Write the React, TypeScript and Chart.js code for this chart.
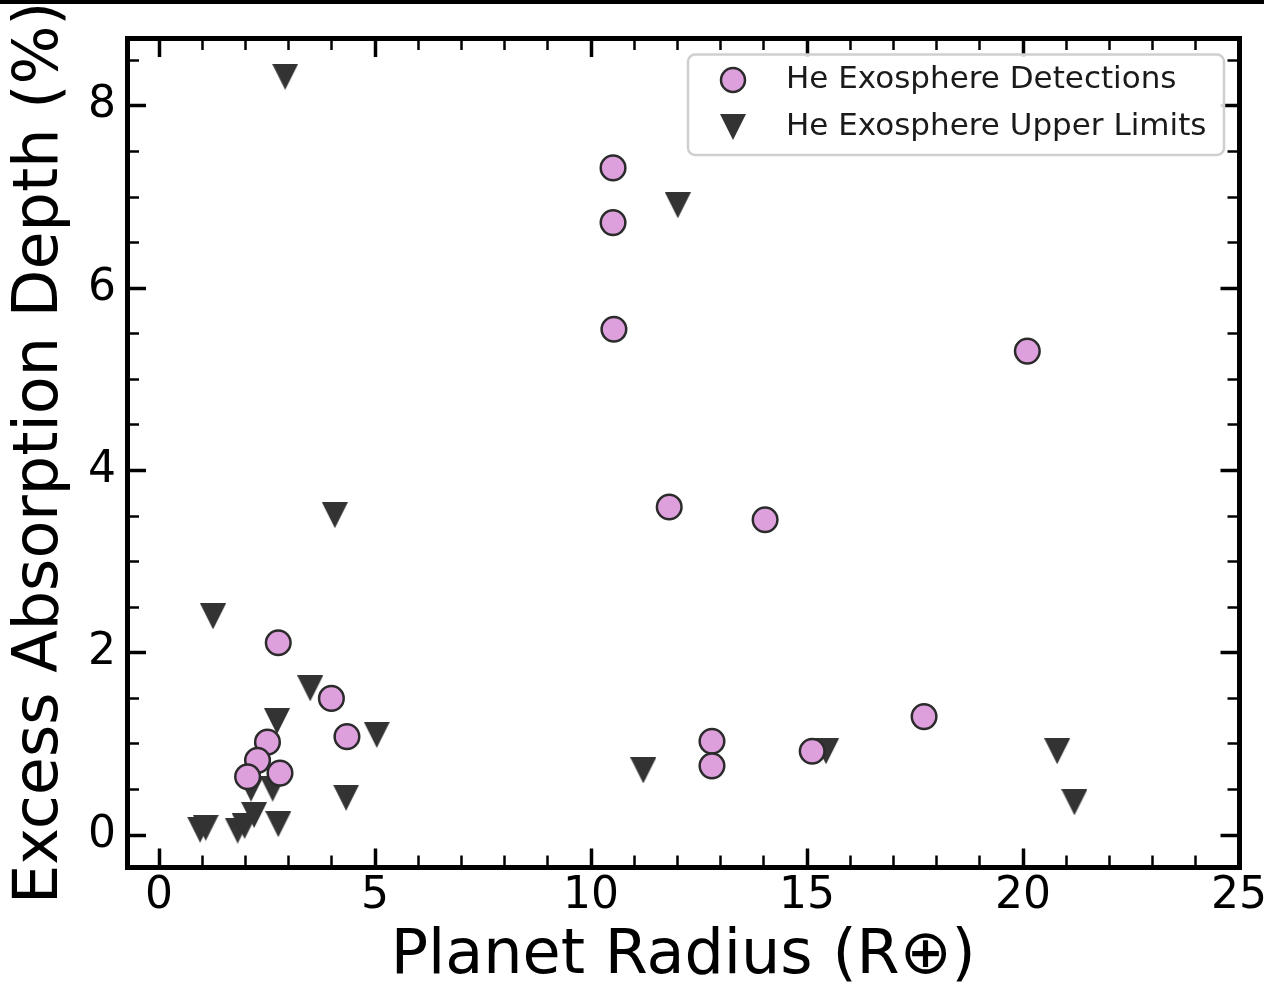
import React, { useEffect, useRef } from "react";
import { Chart, registerables } from "chart.js";

Chart.register(...registerables);

// ---------- data ----------
const detectionRadius = [10.51, 10.51, 10.53, 20.1, 11.81, 14.03, 2.76, 3.99, 4.35, 2.51, 2.28, 2.05, 2.8, 12.8, 12.8, 15.12, 17.71];
const detectionDepth = [7.32, 6.72, 5.55, 5.31, 3.6, 3.46, 2.11, 1.5, 1.08, 1.02, 0.82, 0.64, 0.68, 1.03, 0.76, 0.92, 1.3];

const limitRadius = [2.92, 12.01, 4.07, 1.25, 3.5, 2.73, 5.04, 4.33, 11.21, 15.44, 20.79, 21.19, 0.95, 1.08, 1.82, 1.98, 2.2, 2.76, 2.13, 2.63];
const limitDepth = [8.32, 6.91, 3.51, 2.4, 1.61, 1.25, 1.1, 0.41, 0.71, 0.92, 0.92, 0.36, 0.06, 0.08, 0.05, 0.1, 0.22, 0.12, 0.51, 0.51];

const xMajorTicks = [0, 5, 10, 15, 20, 25];
const xMinorTicks = [1, 2, 3, 4, 6, 7, 8, 9, 11, 12, 13, 14, 16, 17, 18, 19, 21, 22, 23, 24];
const yMajorTicks = [0, 2, 4, 6, 8];
const yMinorTicks = [0.5, 1, 1.5, 2.5, 3, 3.5, 4.5, 5, 5.5, 6.5, 7, 7.5, 8.5];

const X_MIN = -0.73;
const X_MAX = 25;
const Y_MIN = -0.35;
const Y_MAX = 8.74;

const xTitle = "Planet Radius (R\u2295)";
const yTitle = "Excess Absorption Depth (%)";
const detectionLabel = "He Exosphere Detections";
const limitLabel = "He Exosphere Upper Limits";

const FONT = "'DejaVu Sans'";
const PLUM = "#DDA0DD";
const EDGE = "#2b2b2b";
const TRI = "#333333";

function makeTriangle(w: number, h: number, color: string) {
  const c = document.createElement("canvas");
  c.width = w;
  c.height = h;
  const g = c.getContext("2d")!;
  g.fillStyle = color;
  g.beginPath();
  g.moveTo(0, 0);
  g.lineTo(w, 0);
  g.lineTo(w / 2, h);
  g.closePath();
  g.fill();
  return c;
}

const setTicks = (arr: number[]) => (s: any) => {
  s.ticks = arr.map((v) => ({ value: v }));
};

function helperAxis(pos: string, min: number, max: number, ticks: number[], major: boolean, spine: boolean) {
  const horizontal = pos === "top" || pos === "bottom";
  return {
    type: "linear",
    position: pos,
    min,
    max,
    weight: 0,
    afterBuildTicks: setTicks(ticks),
    afterFit: (s: any) => {
      if (horizontal) s.height = 0;
      else s.width = 0;
      s.paddingLeft = 0;
      s.paddingRight = 0;
      s.paddingTop = 0;
      s.paddingBottom = 0;
    },
    grid: {
      display: true,
      drawOnChartArea: false,
      drawTicks: true,
      tickLength: major ? -18.5 : -11.5,
      tickWidth: major ? 3.5 : 2.5,
      tickColor: "#000",
      lineWidth: 5,
      color: "#000",
    },
    border: { display: spine, width: 5, color: "#000" },
    ticks: { display: false, autoSkip: false },
    title: { display: false },
  };
}

const legendPlugin = {
  id: "boxLegend",
  afterDraw(chart: any) {
    const { ctx, chartArea } = chart;
    const tri = chart.options.plugins.boxLegend.marker;
    const right = chartArea.right - 15;
    const top = chartArea.top + 16;
    const w = 536;
    const h = 100.5;
    const left = right - w;
    ctx.save();
    ctx.beginPath();
    ctx.roundRect(left, top, w, h, 7);
    ctx.fillStyle = "rgba(255,255,255,0.85)";
    ctx.fill();
    ctx.lineWidth = 2.5;
    ctx.strokeStyle = "#cfcfcf";
    ctx.stroke();

    const mx = left + 45;
    const row1 = top + 25.5;
    const row2 = top + 72.5;
    ctx.beginPath();
    ctx.arc(mx, row1, 12, 0, Math.PI * 2);
    ctx.fillStyle = PLUM;
    ctx.fill();
    ctx.lineWidth = 2.5;
    ctx.strokeStyle = EDGE;
    ctx.stroke();
    ctx.drawImage(tri, mx - tri.width / 2, row2 - tri.height / 2);

    ctx.fillStyle = "#1a1a1a";
    ctx.font = `31px ${FONT}`;
    ctx.textAlign = "left";
    ctx.textBaseline = "middle";
    const tx = left + 98;
    ctx.fillText(detectionLabel, tx, row1);
    ctx.fillText(limitLabel, tx, row2);
    ctx.restore();
  },
};

export default function App() {
  const ref = useRef<HTMLCanvasElement>(null);

  useEffect(() => {
    Chart.defaults.font.family = FONT;
    const triangle = makeTriangle(26, 26, TRI);
    const chart = new Chart(ref.current!, {
      type: "scatter",
      data: {
        datasets: [
          {
            label: detectionLabel,
            data: detectionRadius.map((x, i) => ({ x, y: detectionDepth[i] })),
            pointStyle: "circle",
            pointRadius: 12.3,
            backgroundColor: PLUM,
            borderColor: EDGE,
            borderWidth: 2.5,
            xAxisID: "x",
            yAxisID: "y",
          },
          {
            label: limitLabel,
            data: limitRadius.map((x, i) => ({ x, y: limitDepth[i] })),
            pointStyle: triangle as any,
            pointRadius: 13,
            backgroundColor: TRI,
            borderColor: TRI,
            borderWidth: 0,
            xAxisID: "x",
            yAxisID: "y",
          },
        ],
      },
      options: {
        responsive: false,
        animation: false,
        events: [],
        layout: { padding: { top: 38.5, right: 25, bottom: 0, left: 0 } },
        plugins: {
          legend: { display: false },
          tooltip: { enabled: false },
          boxLegend: { marker: triangle },
        } as any,
        scales: {
          x: {
            type: "linear",
            position: "bottom",
            min: X_MIN,
            max: X_MAX,
            weight: 1,
            afterBuildTicks: setTicks(xMajorTicks),
            afterFit: (s: any) => {
              s.height = 121;
              s.paddingLeft = 0;
              s.paddingRight = 0;
            },
            grid: {
              display: true,
              drawOnChartArea: false,
              drawTicks: true,
              tickLength: -18.5,
              tickWidth: 3.5,
              tickColor: "#000",
              lineWidth: 5,
              color: "#000",
            },
            border: { display: true, width: 5, color: "#000" },
            ticks: {
              display: true,
              autoSkip: false,
              maxRotation: 0,
              minRotation: 0,
              padding: 22,
              color: "#000",
              font: { family: FONT, size: 44 },
            },
            title: {
              display: true,
              text: xTitle,
              color: "#000",
              font: { family: FONT, size: 62, lineHeight: 1 },
              padding: { top: 0, bottom: 0 },
            },
          },
          xMinor: helperAxis("bottom", X_MIN, X_MAX, xMinorTicks, false, false),
          xTop: helperAxis("top", X_MIN, X_MAX, xMajorTicks, true, true),
          xTopMinor: helperAxis("top", X_MIN, X_MAX, xMinorTicks, false, false),
          y: {
            type: "linear",
            position: "left",
            min: Y_MIN,
            max: Y_MAX,
            weight: 1,
            afterBuildTicks: setTicks(yMajorTicks),
            afterFit: (s: any) => {
              s.width = 127.5;
              s.paddingTop = 0;
              s.paddingBottom = 0;
            },
            grid: {
              display: true,
              drawOnChartArea: false,
              drawTicks: true,
              tickLength: -18.5,
              tickWidth: 3.5,
              tickColor: "#000",
              lineWidth: 5,
              color: "#000",
            },
            border: { display: true, width: 5, color: "#000" },
            ticks: {
              display: true,
              autoSkip: false,
              padding: 30,
              color: "#000",
              font: { family: FONT, size: 44 },
            },
            title: {
              display: true,
              text: yTitle,
              color: "#000",
              font: { family: FONT, size: 62, lineHeight: 1 },
              padding: { top: 9.5, bottom: 0 },
            },
          },
          yMinor: helperAxis("left", Y_MIN, Y_MAX, yMinorTicks, false, false),
          yRight: helperAxis("right", Y_MIN, Y_MAX, yMajorTicks, true, true),
          yRightMinor: helperAxis("right", Y_MIN, Y_MAX, yMinorTicks, false, false),
        } as any,
      },
      plugins: [legendPlugin],
    } as any);
    return () => chart.destroy();
  }, []);

  return (
    <div style={{ position: "fixed", left: 0, top: 0, width: 1264, height: 988, background: "#fff", overflow: "hidden" }}>
      <canvas ref={ref} width={1264} height={988} style={{ display: "block", width: 1264, height: 988 }} />
      <div style={{ position: "absolute", left: 0, top: 0, width: 1264, height: 4, background: "#000" }} />
    </div>
  );
}
